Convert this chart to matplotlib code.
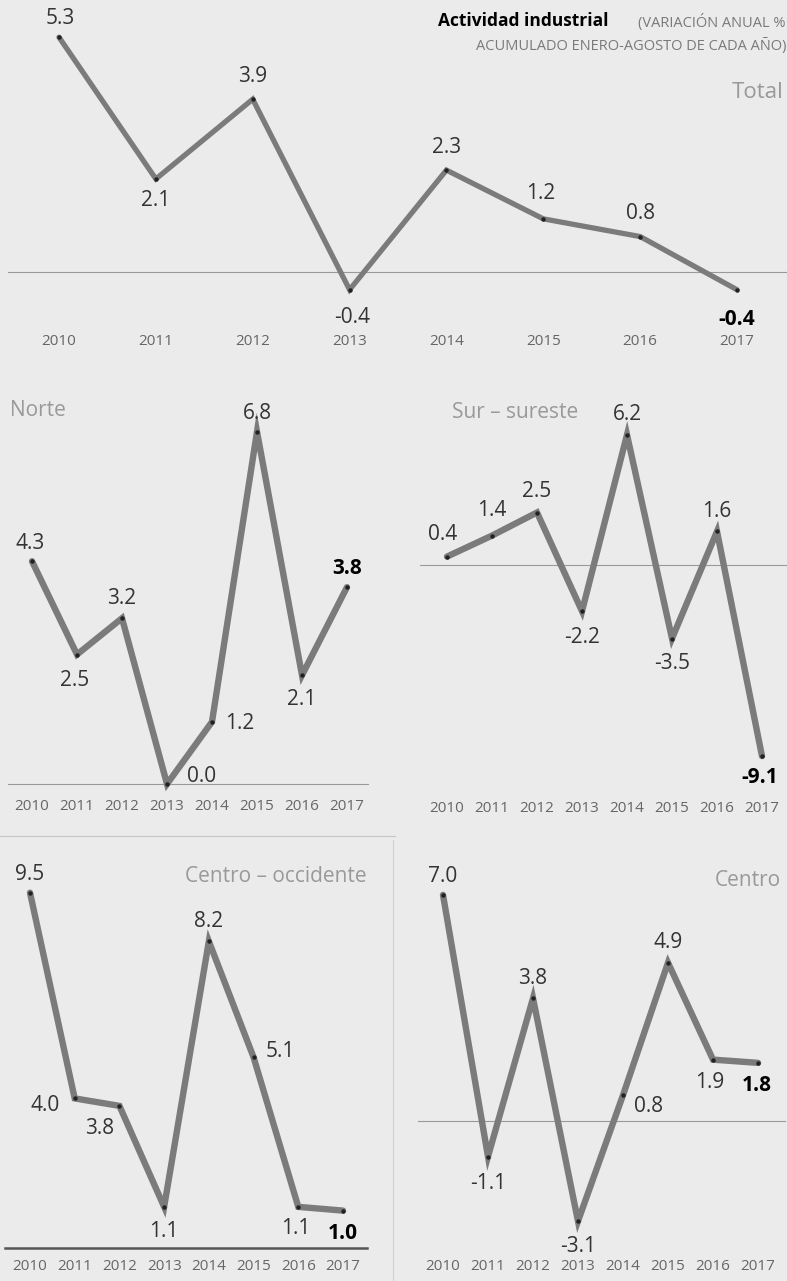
import matplotlib.pyplot as plt
import numpy as np

plt.rcParams['font.family'] = ['Open Sans', 'DejaVu Sans']

# datos: variacion anual % acumulado enero-agosto
years = [2010, 2011, 2012, 2013, 2014, 2015, 2016, 2017]
total = [5.3, 2.1, 3.9, -0.4, 2.3, 1.2, 0.8, -0.4]
norte = [4.3, 2.5, 3.2, 0.0, 1.2, 6.8, 2.1, 3.8]
sur_sureste = [0.4, 1.4, 2.5, -2.2, 6.2, -3.5, 1.6, -9.1]
centro_occidente = [9.5, 4.0, 3.8, 1.1, 8.2, 5.1, 1.1, 1.0]
centro = [7.0, -1.1, 3.8, -3.1, 0.8, 4.9, 1.9, 1.8]

W, H = 787, 1281
BG = '#ebebeb'
LINE = '#7b7b7b'

fig = plt.figure(figsize=(W / 100, H / 100), dpi=100, facecolor=BG)


def px(x, y):
    return x / W, 1 - y / H


def panel(values, box, x0, x1, zero, ppu, offsets, year_y, lw=4.6,
          base_color='#9a9a9a', base_lw=0.8):
    left, top, right, bottom = box
    ax = fig.add_axes([left / W, 1 - bottom / H, (right - left) / W, (bottom - top) / H])
    step = (x1 - x0) / 7
    ax.set_xlim(2010 + (left - x0) / step, 2010 + (right - x0) / step)
    ax.set_ylim((zero - bottom) / ppu, (zero - top) / ppu)
    ax.axis('off')
    ax.axhline(0, color=base_color, lw=base_lw, clip_on=False)
    ax.plot(years, values, color=LINE, lw=lw, solid_joinstyle='miter',
            solid_capstyle='round', clip_on=False, zorder=3)
    ax.plot(years, values, 'o', color='#222222', ms=2.2, clip_on=False, zorder=4)
    for i, (yr, v) in enumerate(zip(years, values)):
        last = i == len(values) - 1
        ax.annotate(f'{v:.1f}', (yr, v), xytext=offsets[i], textcoords='offset pixels',
                    ha='center', va='center', fontsize=15,
                    color='black' if last else '#333333',
                    fontweight='bold' if last else 'normal', annotation_clip=False)
    yl = (zero - year_y) / ppu
    for yr in years:
        ax.text(yr, yl, str(yr), ha='center', va='center', fontsize=11,
                color='#666666', clip_on=False)
    return ax


# Total
panel(total, (8, 0, 787, 330), 59, 737, 272, 44.3,
      [(1, 19), (0, -22), (0, 23), (3, -28), (0, 23), (-3, 25), (0, 23), (0, -30)],
      341, lw=3.8)

# Norte
panel(norte, (8, 395, 368, 795), 32, 347, 784, 51.8,
      [(-2, 18), (-2, -26), (0, 20), (35, 7), (28, -2), (0, 18), (0, -24), (0, 19)],
      806)

# Sur - sureste
panel(sur_sureste, (420, 395, 787, 797), 447, 762, 565, 21.0,
      [(-4, 22), (0, 25), (0, 21), (0, -26), (0, 20), (0, -25), (0, 20), (-2, -21)],
      808)

# Centro - occidente
panel(centro_occidente, (5, 850, 367, 1255), 30, 343, 1248, 37.4,
      [(0, 18), (-30, -7), (-20, -23), (0, -25), (0, 20), (27, 6), (-3, -22), (0, -23)],
      1266, base_color='#555555', base_lw=1.8)

# Centro
panel(centro, (418, 850, 785, 1256), 443, 758, 1121, 32.3,
      [(0, 18), (0, -27), (0, 20), (0, -25), (26, -11), (0, 20), (-3, -23), (-1, -23)],
      1267)

# separadores de columna
fig.add_artist(plt.Line2D([0, 395 / W], [1 - 836 / H] * 2, color='#c6c6c6', lw=0.8))
fig.add_artist(plt.Line2D([393 / W] * 2, [0, 1 - 840 / H], color='#d2d2d2', lw=0.8))

# titulos
fig.text(*px(609, 21), 'Actividad industrial', ha='right', va='center',
         fontsize=12.5, fontweight='bold', color='black')
fig.text(*px(786, 23), '(VARIACIÓN ANUAL %', ha='right', va='center',
         fontsize=10.5, color='#7a7a7a')
fig.text(*px(786, 46), 'ACUMULADO ENERO-AGOSTO DE CADA AÑO)', ha='right', va='center',
         fontsize=10.5, color='#7a7a7a')

fig.text(*px(784, 93), 'Total', ha='right', va='center', fontsize=16, color='#999999')
fig.text(*px(10, 410), 'Norte', ha='left', va='center', fontsize=15, color='#999999')
fig.text(*px(452, 412), 'Sur – sureste', ha='left', va='center', fontsize=15, color='#999999')
fig.text(*px(367, 876), 'Centro – occidente', ha='right', va='center', fontsize=15,
         color='#999999')
fig.text(*px(781, 880), 'Centro', ha='right', va='center', fontsize=15, color='#999999')

fig.savefig('out.png', dpi=100, facecolor=BG)
